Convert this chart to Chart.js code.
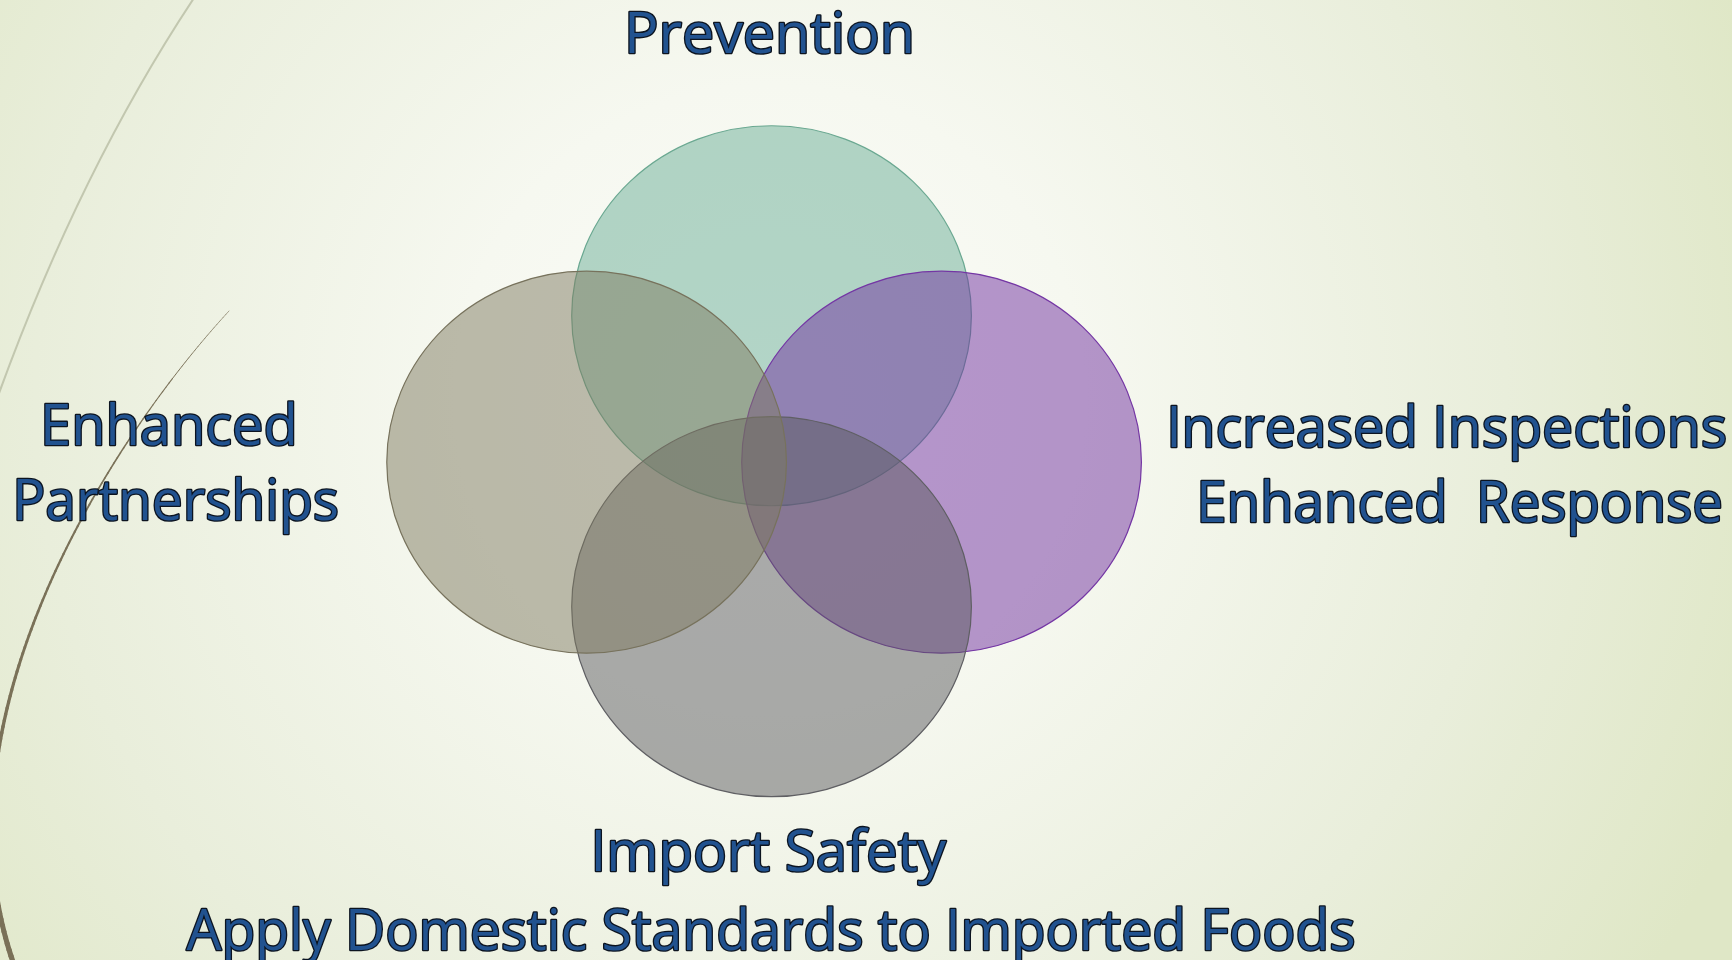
<!DOCTYPE html>
<html><head><meta charset="utf-8">
<script src="https://cdn.jsdelivr.net/npm/chart.js@4.4.1/dist/chart.umd.min.js"></script>
<style>html,body{margin:0;padding:0;background:#f4f6ec;overflow:hidden}canvas{display:block}</style>
</head><body>
<canvas id="c" width="1732" height="960"></canvas>
<script>
// Venn circles (drawn in this order)
const circleNames = ['Prevention', 'Increased Inspections', 'Import Safety', 'Enhanced Partnerships'];
const centerX = [771, 942, 771, 585];
const centerY = [314, 462, 608, 462];
const radiusX = [201, 201, 201, 201];
const radiusY = [192, 193, 192, 193];
const fillColors = ['rgba(106,173,150,0.5)', 'rgba(112,48,160,0.5)', 'rgba(90,89,94,0.5)', 'rgba(126,121,96,0.5)'];
const edgeColors = ['#6aa891', '#7436a4', '#5f5f63', '#77725c'];

// Text labels
const labelText = ['Prevention', 'Enhanced', 'Partnerships', 'Increased Inspections', 'Enhanced  Response', 'Import Safety', 'Apply Domestic Standards to Imported Foods'];
const labelX = [770, 169, 177, 1448, 1461, 771, 770];
const labelY = [53, 445, 520, 447, 522, 871, 950];
const labelW = [282, 248, 320, 554, 520, 351, 1167];

const FONT = '57px "Open Sans", "Liberation Sans", sans-serif';

const decor = {
  id: 'decor',
  beforeDraw(chart) {
    const ctx = chart.ctx, W = chart.width, H = chart.height;
    ctx.save();
    const g = ctx.createRadialGradient(770, 400, 0, 770, 400, 1050);
    g.addColorStop(0, '#fbfcf9');
    g.addColorStop(0.3, '#f6f8f0');
    g.addColorStop(0.7, '#e9eedb');
    g.addColorStop(1, '#dfe7c6');
    ctx.fillStyle = g;
    ctx.fillRect(0, 0, W, H);
    // thin light arc
    ctx.beginPath();
    ctx.moveTo(194, -2);
    ctx.quadraticCurveTo(80, 170, -2, 396);
    ctx.strokeStyle = 'rgba(190,194,170,0.9)';
    ctx.lineWidth = 2;
    ctx.stroke();
    // tapered brown arc
    const P0 = [229, 311], P1 = [110, 440], P2 = [-70, 720], P3 = [13, 962];
    const pt = t => {
      const a = (1 - t) ** 3, b = 3 * (1 - t) ** 2 * t, c = 3 * (1 - t) * t * t, d = t ** 3;
      return [a * P0[0] + b * P1[0] + c * P2[0] + d * P3[0], a * P0[1] + b * P1[1] + c * P2[1] + d * P3[1]];
    };
    ctx.strokeStyle = '#7a7158';
    ctx.lineCap = 'round';
    const N = 120;
    let prev = pt(0);
    for (let i = 1; i <= N; i++) {
      const t = i / N, p = pt(t);
      ctx.beginPath();
      ctx.moveTo(prev[0], prev[1]);
      ctx.lineTo(p[0], p[1]);
      ctx.lineWidth = 0.6 + 4.6 * Math.pow(t, 1.3);
      ctx.stroke();
      prev = p;
    }
    ctx.restore();
  },
  beforeDatasetDraw(chart, args) {
    const ctx = chart.ctx;
    const xs = chart.scales.x, ys = chart.scales.y;
    const meta = args.meta;
    ctx.save();
    meta.data.forEach((el, i) => {
      const rx = Math.abs(xs.getPixelForValue(centerX[i] + radiusX[i]) - xs.getPixelForValue(centerX[i]));
      const ry = Math.abs(ys.getPixelForValue(centerY[i] + radiusY[i]) - ys.getPixelForValue(centerY[i]));
      ctx.beginPath();
      ctx.ellipse(el.x, el.y, rx, ry, 0, 0, Math.PI * 2);
      ctx.fillStyle = fillColors[i];
      ctx.fill();
      ctx.lineWidth = 1.2;
      ctx.strokeStyle = edgeColors[i];
      ctx.stroke();
    });
    ctx.restore();
    return false;
  },
  afterDatasetsDraw(chart) {
    const ctx = chart.ctx;
    ctx.save();
    ctx.font = FONT;
    ctx.textAlign = 'left';
    ctx.textBaseline = 'alphabetic';
    labelText.forEach((t, i) => {
      const m = ctx.measureText(t);
      const abl = m.actualBoundingBoxLeft, abr = m.actualBoundingBoxRight;
      const ink = abl + abr;
      const s = labelW[i] / ink;
      ctx.save();
      ctx.translate(labelX[i], labelY[i]);
      ctx.scale(s, 1);
      const x0 = (abl - abr) / 2;
      ctx.lineWidth = 2.7;
      ctx.lineJoin = 'round';
      ctx.strokeStyle = '#0c1420';
      ctx.strokeText(t, x0, 0);
      ctx.fillStyle = '#21528f';
      ctx.fillText(t, x0, 0);
      ctx.restore();
    });
    ctx.restore();
  }
};

function build() {
  new Chart(document.getElementById('c'), {
    type: 'scatter',
    data: {
      labels: circleNames,
      datasets: [{
        label: 'Venn',
        data: centerX.map((x, i) => ({ x: x, y: centerY[i] })),
        backgroundColor: fillColors,
        borderColor: edgeColors
      }]
    },
    options: {
      responsive: false,
      animation: false,
      events: [],
      layout: { padding: 0 },
      plugins: { legend: { display: false }, tooltip: { enabled: false } },
      scales: {
        x: { type: 'linear', min: 0, max: 1732, display: false },
        y: { type: 'linear', min: 0, max: 960, reverse: true, display: false }
      }
    },
    plugins: [decor]
  });
}
if (document.fonts && document.fonts.load) {
  document.fonts.load(FONT).then(build, build);
} else { build(); }
</script>
</body></html>
